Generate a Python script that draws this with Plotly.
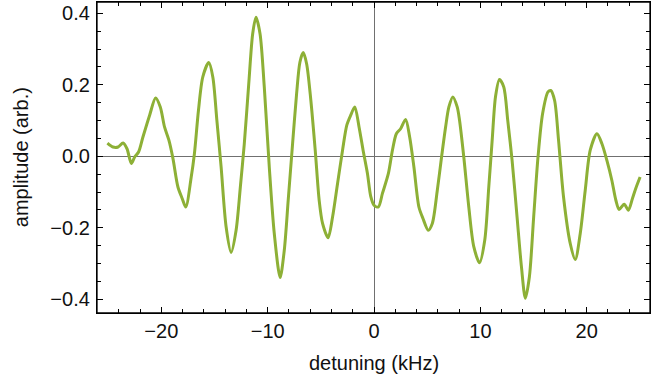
import plotly.graph_objects as go

detuning = [-25.07, -24.55, -24.07, -23.60, -23.23, -22.82, -22.51, -22.14, -21.73, -21.10,
            -20.54, -20.10, -19.70, -19.29, -18.91, -18.44, -18.04, -17.70, -17.20, -16.89,
            -16.51, -16.10, -15.54, -15.16, -14.78, -14.38, -13.91, -13.44, -12.97, -12.57,
            -12.20, -11.78, -11.41, -11.10, -10.72, -10.32, -9.85, -9.38, -8.83, -8.44,
            -8.07, -7.66, -7.28, -6.97, -6.66, -6.34, -5.94, -5.53, -5.16, -4.84,
            -4.32, -3.90, -3.43, -2.96, -2.56, -2.19, -1.81, -1.41, -1.03, -0.62,
            -0.31, 0.00, 0.41, 0.79, 1.35, 1.73, 2.10, 2.50, 2.97, 3.35,
            3.75, 4.22, 4.60, 5.10, 5.48, 5.95, 6.35, 6.73, 7.04, 7.41,
            7.82, 8.04, 8.44, 8.91, 9.38, 9.92, 10.41, 10.79, 11.11, 11.42,
            11.79, 12.20, 12.57, 12.98, 13.45, 13.86, 14.23, 14.61, 15.01, 15.42,
            15.85, 16.36, 16.62, 16.98, 17.35, 17.82, 18.45, 18.92, 19.39, 19.86,
            20.33, 20.96, 21.43, 21.89, 22.36, 22.74, 23.05, 23.52, 23.92, 24.30,
            24.61, 25.02]
amplitude = [0.037, 0.026, 0.026, 0.037, 0.021, -0.020, -0.002, 0.012, 0.054, 0.115,
             0.163, 0.138, 0.082, 0.045, -0.006, -0.086, -0.118, -0.142, -0.060, 0.007,
             0.128, 0.222, 0.262, 0.222, 0.101, -0.030, -0.197, -0.269, -0.207, -0.086,
             0.035, 0.203, 0.343, 0.389, 0.343, 0.194, -0.030, -0.216, -0.339, -0.263,
             -0.123, 0.035, 0.175, 0.263, 0.290, 0.259, 0.156, 0.017, -0.123, -0.188,
             -0.228, -0.170, -0.076, 0.017, 0.087, 0.115, 0.138, 0.082, 0.017, -0.048,
             -0.112, -0.137, -0.142, -0.104, -0.048, 0.017, 0.063, 0.077, 0.103, 0.054,
             -0.030, -0.142, -0.174, -0.207, -0.188, -0.095, -0.002, 0.082, 0.138, 0.166,
             0.138, 0.101, -0.002, -0.142, -0.253, -0.298, -0.235, -0.086, 0.045, 0.166,
             0.215, 0.194, 0.101, -0.011, -0.170, -0.309, -0.397, -0.337, -0.170, -0.002,
             0.119, 0.180, 0.184, 0.156, 0.045, -0.114, -0.244, -0.289, -0.216, -0.095,
             0.017, 0.063, 0.035, -0.011, -0.067, -0.123, -0.149, -0.134, -0.151, -0.118,
             -0.090, -0.058]

x_ticks = [-20, -10, 0, 10, 20]
x_tick_text = ["\u221220", "\u221210", "0", "10", "20"]
y_ticks = [-0.4, -0.2, 0.0, 0.2, 0.4]
y_tick_text = ["\u22120.4", "\u22120.2", "0.0", "0.2", "0.4"]
x_title = "detuning (kHz)"
y_title = "amplitude (arb.)"
x_range = [-26.05, 25.95]
y_range = [-0.4385, 0.4316]

fig = go.Figure()
fig.add_trace(go.Scatter(
    x=detuning, y=amplitude, mode="lines",
    line=dict(color="#8DB036", width=3, shape="spline", smoothing=0.8),
    showlegend=False, hoverinfo="skip"))
# invisible copy so the mirrored (top/right) tick axes are drawn
fig.add_trace(go.Scatter(
    x=detuning, y=amplitude, mode="lines", xaxis="x2", yaxis="y2",
    line=dict(color="rgba(0,0,0,0)", width=0), showlegend=False, hoverinfo="skip"))

font = dict(family="Liberation Sans, Arial, sans-serif", size=20, color="#111111")

tick_style = dict(
    showgrid=False, showline=True, linecolor="black", linewidth=1.3,
    ticks="inside", ticklen=6, tickwidth=1, tickcolor="black",
    tickfont=font, automargin=False,
)
x_minor = dict(dtick=2, tick0=0, ticks="inside", ticklen=3.5, tickwidth=1,
               tickcolor="black", showgrid=False)
y_minor = dict(dtick=0.05, tick0=0, ticks="inside", ticklen=3.5, tickwidth=1,
               tickcolor="black", showgrid=False)

fig.update_layout(
    xaxis=dict(range=x_range, tickvals=x_ticks, ticktext=x_tick_text, ticklabelstandoff=0,
               minor=x_minor, zeroline=True, zerolinecolor="#707070", zerolinewidth=1,
               mirror=True, **tick_style),
    yaxis=dict(range=y_range, tickvals=y_ticks, ticktext=y_tick_text, ticklabelstandoff=2,
               minor=y_minor, zeroline=True, zerolinecolor="#707070", zerolinewidth=1,
               mirror=True, **tick_style),
    xaxis2=dict(range=x_range, tickvals=x_ticks, showticklabels=False, minor=x_minor,
                overlaying="x", side="top", anchor="y2", zeroline=False, **tick_style),
    yaxis2=dict(range=y_range, tickvals=y_ticks, showticklabels=False, minor=y_minor,
                overlaying="y", side="right", anchor="x2", zeroline=False, **tick_style),
)

fig.add_shape(type="rect", xref="paper", yref="paper", x0=0, y0=0, x1=1, y1=1,
              line=dict(color="black", width=1.3), fillcolor="rgba(0,0,0,0)", layer="above")

fig.add_annotation(text=x_title, xref="paper", yref="paper", x=0.5, y=-0.16,
                   xanchor="center", yanchor="middle", showarrow=False, font=font)
fig.add_annotation(text=y_title, xref="paper", yref="paper", x=-0.138, y=0.5,
                   xanchor="center", yanchor="middle", showarrow=False, font=font,
                   textangle=-90)

fig.update_layout(
    width=652, height=376,
    margin=dict(l=97, r=2, t=2, b=63),
    paper_bgcolor="white", plot_bgcolor="white",
    font=font,
)

fig.write_html("out.html", config={"displayModeBar": False},
               post_script="document.body.style.margin='0';document.body.style.padding='0';")
